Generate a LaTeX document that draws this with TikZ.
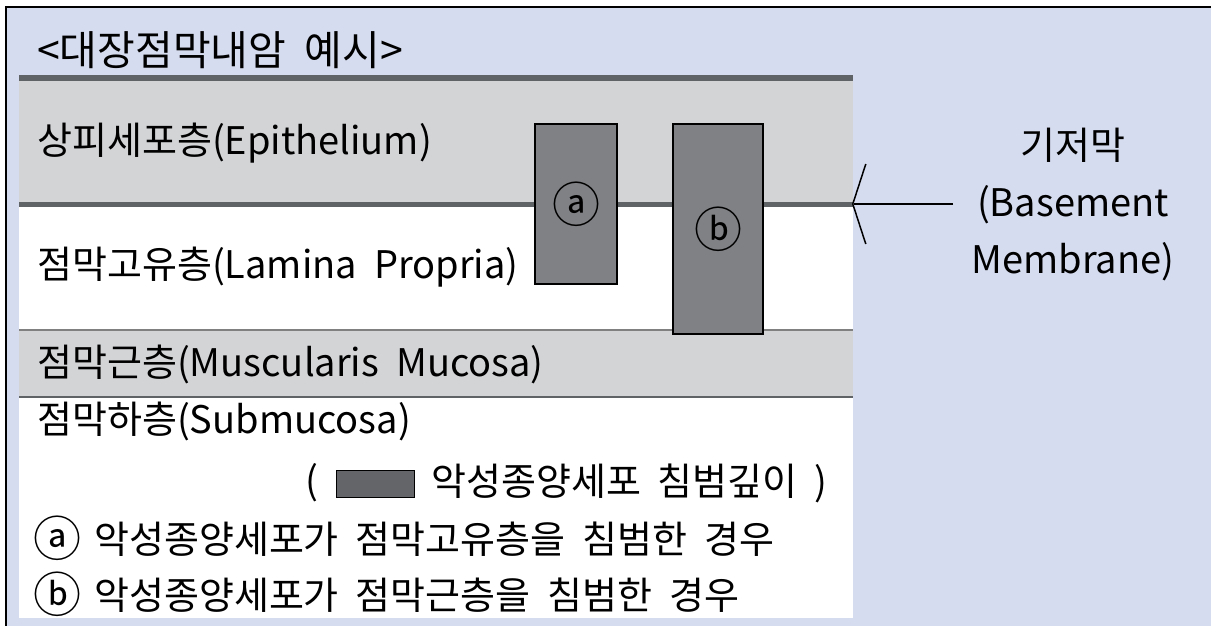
\documentclass[tikz,border=0pt]{standalone}
\usepackage{fontspec}
\setmainfont{Noto Sans CJK KR}[WordSpace=2.0]
\usetikzlibrary{arrows.meta}
\definecolor{bgblue}{RGB}{214,220,239}
\definecolor{layergray}{RGB}{211,212,214}
\definecolor{darkline}{RGB}{95,99,101}
\definecolor{tumorgray}{RGB}{128,129,133}
\definecolor{keygray}{RGB}{100,101,105}
\newcommand{\cirlet}[1]{{\fontsize{48}{40}\selectfont\raisebox{-0.06em}{#1}}}
\begin{document}
\begin{tikzpicture}[x=1pt, y=-1pt,
  lbl/.style={anchor=west, inner sep=0pt, font=\fontsize{38}{44}\selectfont},
  tumor/.style={draw=black, line width=1.2pt, fill=tumorgray, inner sep=0pt}]
\useasboundingbox (0,0) rectangle (1211,626);
%%%% Background and frame:
\fill[bgblue] (6,7) rectangle (1211,626);
\draw[line width=2pt] (6,626) -- (6,7) -- (1211,7);
%%%% Layers:
\fill[white] (19,75) rectangle (853,618);
\fill[layergray] (19,81) rectangle (853,204);
\fill[layergray] (19,330) rectangle (853,397);
\draw[line width=1.5pt, gray] (19,330) -- (853,330);
\draw[line width=1.5pt, darkline] (19,397) -- (853,397);
\draw[line width=6pt, darkline] (19,78) -- (853,78);
\draw[line width=5pt, darkline] (19,204) -- (853,204);
%%%% Layer labels
\node[lbl, font=\fontsize{41}{44}\selectfont] (title) at (37,50) {<대장점막내암 예시>};
\node[lbl] (epi) at (37,143) {상피세포층(Epithelium)};
\node[lbl] (lam) at (37,267) {점막고유층(Lamina Propria)};
\node[lbl] (mus) at (37,364) {점막근층(Muscularis Mucosa)};
\node[lbl] (sub) at (37,421) {점막하층(Submucosa)};
%%%% Tumour depth boxes
\node[tumor, minimum width=82pt, minimum height=160pt] (a) at (576,204) {\cirlet{ⓐ}};
\node[tumor, minimum width=90pt, minimum height=210pt] (b) at (718,229) {\cirlet{ⓑ}};
%%%% Basement membrane
\coordinate (bm) at (852,204);
\node[font=\fontsize{38}{57}\selectfont, align=center, inner sep=0pt] (memb) at (1073,205)
  {기저막\\(Basement\\Membrane)};
\draw[line width=1.5pt, -{Straight Barb[length=13pt, width=80pt, line width=1.5pt]}] (953,204) -- (bm);
%%%% Legend
\node[lbl] (lparen) at (305,483) {(};
\node[draw=black, line width=1pt, fill=keygray, minimum width=78pt, minimum height=27pt, inner sep=0pt] (key) at (375,483.5) {};
\node[lbl] (legend) at (431,483) {악성종양세포 침범깊이 )};
\node[lbl] (casea) at (33,538) {\cirlet{ⓐ}\hspace{-4pt} 악성종양세포가 점막고유층을 침범한 경우};
\node[lbl] (caseb) at (33,594) {\cirlet{ⓑ}\hspace{-4pt} 악성종양세포가 점막근층을 침범한 경우};
\end{tikzpicture}
\end{document}
